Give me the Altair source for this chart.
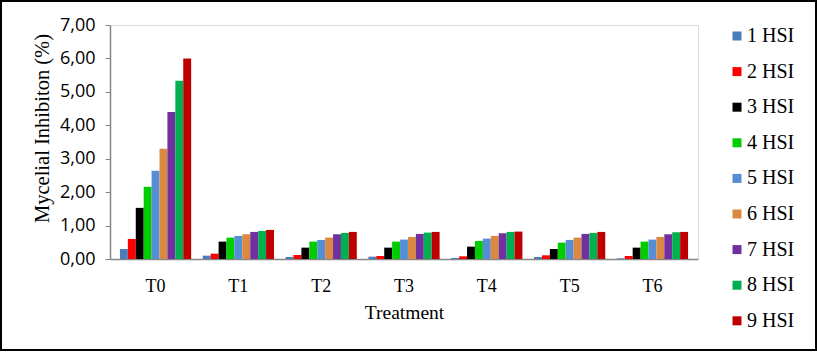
import altair as alt
import pandas as pd

treatments = ["T0", "T1", "T2", "T3", "T4", "T5", "T6"]
series = ["1 HSI", "2 HSI", "3 HSI", "4 HSI", "5 HSI", "6 HSI", "7 HSI", "8 HSI", "9 HSI"]
colors = ["#4A7EBB", "#FF0000", "#000000", "#00CC00", "#558ED5", "#DB8840", "#7030A0", "#00B050", "#C00000"]

# values per treatment, in series order
v_T0 = [0.30, 0.60, 1.53, 2.16, 2.64, 3.30, 4.40, 5.33, 6.00]
v_T1 = [0.10, 0.16, 0.52, 0.64, 0.69, 0.74, 0.81, 0.84, 0.87]
v_T2 = [0.06, 0.12, 0.34, 0.52, 0.57, 0.64, 0.74, 0.78, 0.81]
v_T3 = [0.07, 0.09, 0.34, 0.52, 0.58, 0.66, 0.75, 0.79, 0.81]
v_T4 = [0.03, 0.08, 0.37, 0.54, 0.61, 0.69, 0.77, 0.81, 0.82]
v_T5 = [0.06, 0.11, 0.30, 0.49, 0.57, 0.64, 0.75, 0.78, 0.81]
v_T6 = [0.02, 0.09, 0.34, 0.52, 0.58, 0.66, 0.74, 0.80, 0.81]
all_vals = [v_T0, v_T1, v_T2, v_T3, v_T4, v_T5, v_T6]

rows = []
for t, vals in zip(treatments, all_vals):
    for s, v in zip(series, vals):
        rows.append({"Treatment": t, "Series": s, "Value": v})
df = pd.DataFrame(rows)

serif = "Liberation Serif"
sans = "Open Sans"

bars = alt.Chart(df).mark_bar().encode(
    x=alt.X("Treatment:N", sort=treatments,
            scale=alt.Scale(paddingInner=0.14, paddingOuter=0.12),
            axis=alt.Axis(title="Treatment", labelAngle=0, ticks=False, tickSize=0,
                          labelPadding=18, labelFont=serif, labelFontSize=18,
                          labelColor="#000000", titleFont=serif, titleFontSize=19.5,
                          titleFontWeight="normal", titleColor="#000000", titlePadding=8,
                          domainColor="#868686", domainWidth=1.5)),
    xOffset=alt.XOffset("Series:N", sort=series, scale=alt.Scale(paddingInner=0, paddingOuter=0)),
    y=alt.Y("Value:Q", scale=alt.Scale(domain=[0, 7], nice=False),
            axis=alt.Axis(title="Mycelial Inhibiton (%)", values=[0, 1, 2, 3, 4, 5, 6, 7],
                          labelExpr="replace(format(datum.value, '.2f'), '.', ',')",
                          grid=False, tickSize=5, tickColor="#868686", domainColor="#868686",
                          domainWidth=1.5, labelFont=sans, labelFontSize=18, labelColor="#000000",
                          labelPadding=10, titleFont=serif, titleFontSize=20.5,
                          titleFontWeight="normal", titleColor="#000000", titlePadding=7,
                          titleY=103)),
    color=alt.Color("Series:N", sort=series,
                    scale=alt.Scale(domain=series, range=colors),
                    legend=alt.Legend(title=None, orient="none", legendX=617, legendY=1,
                                      symbolType="square", symbolSize=81, symbolStrokeWidth=0,
                                      labelFont=serif, labelFontSize=20, labelColor="#000000",
                                      labelOffset=0, rowPadding=15.6)),
)

frame_df = pd.DataFrame({"k": [0]})
frame = alt.Chart(frame_df).mark_rect(fill=None, stroke="#000000", strokeWidth=2, clip=False).encode(
    x=alt.value(-109), x2=alt.value(706), y=alt.value(-24), y2=alt.value(92 + 234 - 1)
)

chart = alt.layer(bars, frame).properties(
    width=588, height=234,
    autosize=alt.AutoSizeParams(type="none"),
    padding={"left": 110, "top": 25, "right": 119, "bottom": 93},
).configure_view(stroke=None).configure(background="white")

chart.save("out.html", embed_options={"renderer": "svg", "actions": False})
